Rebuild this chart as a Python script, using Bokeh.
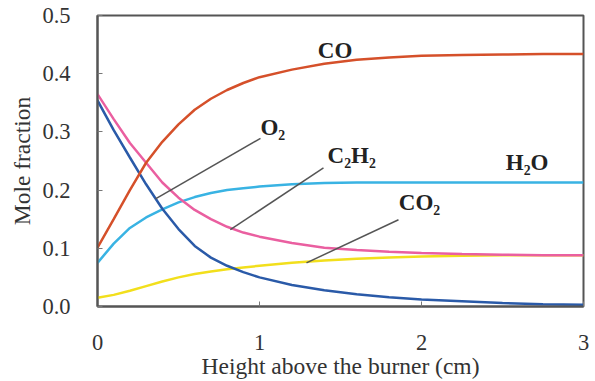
from bokeh.plotting import figure
from bokeh.models import FixedTicker, PrintfTickFormatter, ColumnDataSource
from bokeh.core.properties import value
from bokeh.embed import file_html
from bokeh.resources import INLINE

# ---- data ----
height_cm = [0, 0.1, 0.2, 0.3, 0.4, 0.5, 0.6, 0.7, 0.8, 0.9, 1.0,
             1.2, 1.4, 1.6, 1.8, 2.0, 2.25, 2.5, 2.75, 3.0]
co = [0.101, 0.150, 0.200, 0.247, 0.283, 0.313, 0.338, 0.357, 0.372, 0.384, 0.394,
      0.407, 0.417, 0.424, 0.428, 0.431, 0.432, 0.433, 0.434, 0.434]
c2h2 = [0.365, 0.322, 0.281, 0.247, 0.213, 0.187, 0.166, 0.150, 0.137, 0.127, 0.120,
        0.109, 0.101, 0.097, 0.094, 0.092, 0.090, 0.089, 0.088, 0.088]
o2 = [0.354, 0.303, 0.256, 0.210, 0.168, 0.133, 0.104, 0.084, 0.070, 0.059, 0.050,
      0.037, 0.028, 0.021, 0.016, 0.012, 0.009, 0.006, 0.004, 0.003]
h2o = [0.075, 0.108, 0.135, 0.153, 0.167, 0.179, 0.188, 0.195, 0.200, 0.203, 0.206,
       0.210, 0.212, 0.213, 0.213, 0.213, 0.213, 0.213, 0.213, 0.213]
co2 = [0.015, 0.020, 0.027, 0.035, 0.043, 0.050, 0.056, 0.060, 0.064, 0.067, 0.070,
       0.075, 0.079, 0.082, 0.084, 0.086, 0.087, 0.088, 0.088, 0.088]

x_ticks = [0, 1, 2, 3]
y_ticks = [0.0, 0.1, 0.2, 0.3, 0.4, 0.5]

# species labels and leader lines (data coordinates)
label_text = ["CO", "O\u2082", "C\u2082H\u2082", "H\u2082O", "CO\u2082"]
label_x = [1.36, 1.006, 1.42, 2.52, 1.86]
label_y = [0.44, 0.308, 0.260, 0.248, 0.178]
leader_x0 = [0.358, 0.82, 1.29]
leader_y0 = [0.185, 0.132, 0.075]
leader_x1 = [1.006, 1.395, 1.858]
leader_y1 = [0.289, 0.238, 0.149]

SERIF = "Liberation Serif"

p = figure(width=595, height=381, x_range=(0, 3), y_range=(0, 0.5),
           output_backend="svg", toolbar_location=None,
           min_border_left=97, min_border_right=12, min_border_top=15,
           min_border_bottom=74, background_fill_color="white",
           border_fill_color="white")
p.xgrid.visible = False
p.ygrid.visible = False
p.outline_line_color = "#555555"
p.outline_line_width = 2
p.outline_line_alpha = 1

for ax in (p.xaxis[0], p.yaxis[0]):
    ax.axis_line_color = "#555555"
    ax.axis_line_width = 2
    ax.major_tick_line_color = "#777777"
    ax.major_tick_line_width = 1
    ax.major_tick_in = 5
    ax.major_tick_out = 0
    ax.minor_tick_line_color = None
    ax.major_label_text_font = SERIF
    ax.major_label_text_font_size = "22.5px"
    ax.major_label_text_color = "#333333"
    ax.axis_label_text_font = SERIF
    ax.axis_label_text_font_size = "23.5px"
    ax.axis_label_text_font_style = "normal"
    ax.axis_label_text_color = "#333333"

p.xaxis.ticker = FixedTicker(ticks=x_ticks)
p.xaxis.formatter = PrintfTickFormatter(format="%d")
p.yaxis.ticker = FixedTicker(ticks=y_ticks)
p.yaxis.formatter = PrintfTickFormatter(format="%.1f")
p.xaxis.axis_label = "Height above the burner (cm)"
p.yaxis.axis_label = "Mole fraction"
p.xaxis.major_label_standoff = 28
p.xaxis.axis_label_standoff = 0
p.yaxis.major_label_standoff = 27
p.yaxis.axis_label_standoff = 4

src = ColumnDataSource(dict(x=height_cm, co=co, c2h2=c2h2, o2=o2, h2o=h2o, co2=co2))
lw = 2.5
p.line("x", "co2", source=src, line_color="#f2df1c", line_width=lw)
p.line("x", "h2o", source=src, line_color="#39b3e3", line_width=lw)
p.line("x", "c2h2", source=src, line_color="#ea5fa0", line_width=lw)
p.line("x", "o2", source=src, line_color="#2a5aa8", line_width=lw)
p.line("x", "co", source=src, line_color="#d5502a", line_width=lw)

p.segment(x0=leader_x0, y0=leader_y0, x1=leader_x1, y1=leader_y1,
          line_color="#555555", line_width=1.5)

p.text(x=label_x, y=label_y, text=label_text, text_font=value(SERIF),
       text_font_size="23px", text_font_style="bold", text_color="#222222",
       text_align="left", text_baseline="middle")

open("out.html", "w").write(file_html(p, INLINE))
